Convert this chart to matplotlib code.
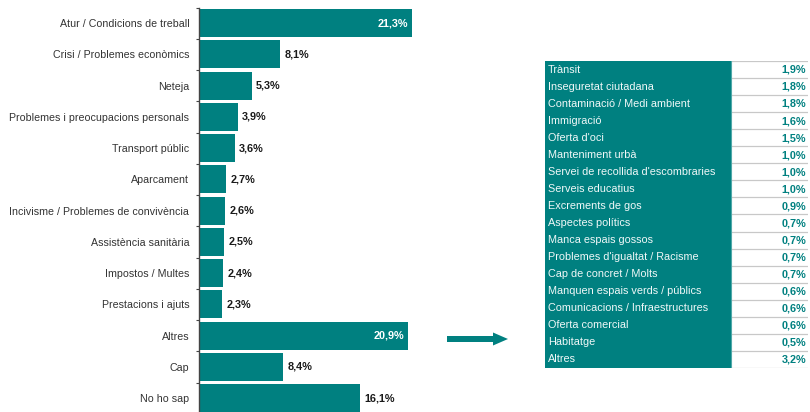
import matplotlib
matplotlib.use("Agg")
import matplotlib.pyplot as plt
from matplotlib.patches import Rectangle, FancyArrow

plt.rcParams['font.family'] = ['Liberation Sans', 'DejaVu Sans']

TEAL = '#008080'

# ---- data ----
categories = ["Atur / Condicions de treball", "Crisi / Problemes econòmics", "Neteja",
              "Problemes i preocupacions personals", "Transport públic", "Aparcament",
              "Incivisme / Problemes de convivència", "Assistència sanitària",
              "Impostos / Multes", "Prestacions i ajuts", "Altres", "Cap", "No ho sap"]
values = [21.3, 8.1, 5.3, 3.9, 3.6, 2.7, 2.6, 2.5, 2.4, 2.3, 20.9, 8.4, 16.1]

other_items = ["Trànsit", "Inseguretat ciutadana", "Contaminació / Medi ambient", "Immigració",
               "Oferta d'oci", "Manteniment urbà", "Servei de recollida d'escombraries",
               "Serveis educatius", "Excrements de gos", "Aspectes polítics",
               "Manca espais gossos", "Problemes d'igualtat / Racisme", "Cap de concret / Molts",
               "Manquen espais verds / públics", "Comunicacions / Infraestructures",
               "Oferta comercial", "Habitatge", "Altres"]
other_values = [1.9, 1.8, 1.8, 1.6, 1.5, 1.0, 1.0, 1.0, 0.9, 0.7, 0.7, 0.7, 0.7, 0.6, 0.6, 0.6, 0.5, 3.2]

def fmt(v):
    return f"{v:.1f}".replace('.', ',') + '%'

W, H = 810, 412
fig = plt.figure(figsize=(W / 100, H / 100), dpi=100)

# ---- bar chart ----
top_px = 7.5
slot = 31.25
n = len(categories)
ax_h = slot * n
ax = fig.add_axes([199 / W, (H - top_px - ax_h) / H, 213 / W, ax_h / H])
ypos = list(range(n))
ax.barh(ypos, values, height=0.9, color=TEAL, zorder=2)
ax.set_xlim(0, 21.3)
ax.set_ylim(n - 0.5, -0.5)
ax.set_xticks([])
ax.set_yticks(ypos)
ax.set_yticklabels(categories, fontsize=7.7, color='#333333')
ax.tick_params(axis='y', which='major', length=0, pad=7)
ax.set_yticks([i - 0.5 for i in range(n + 1)], minor=True)
ax.tick_params(axis='y', which='minor', length=2.5, width=0.8, color='#444444', direction='out')
for s in ['top', 'right', 'bottom']:
    ax.spines[s].set_visible(False)
ax.spines['left'].set_color('#444444')
ax.spines['left'].set_linewidth(1.0)
ax.patch.set_alpha(0)

for y, v in zip(ypos, values):
    if v > 20:
        ax.annotate(fmt(v), (v, y), xytext=(-3, 0), textcoords='offset points',
                    ha='right', va='center', fontsize=7.8, fontweight='bold', color='white',
                    zorder=3)
    else:
        ax.annotate(fmt(v), (v, y), xytext=(3, 0), textcoords='offset points',
                    ha='left', va='center', fontsize=7.8, fontweight='bold', color='#1a1a1a',
                    annotation_clip=False, zorder=3)

# ---- table of other answers ----
tx0, tx1 = 545, 808
ty0, ty1 = 61, 368
tab = fig.add_axes([tx0 / W, (H - ty1) / H, (tx1 - tx0) / W, (ty1 - ty0) / H])
m = len(other_items)
tab.set_xlim(0, 1)
tab.set_ylim(m, 0)
tab.axis('off')
split = (731 - tx0) / (tx1 - tx0)
tab.add_patch(Rectangle((0, 0), split, m, facecolor=TEAL, edgecolor='none'))
for i in range(m + 1):
    tab.plot([split, 1], [i, i], color='#c8c8c8', lw=0.9, solid_capstyle='butt')
tab.plot([split, split], [0, m], color='#4fa8a8', lw=0.8)
for i, (name, v) in enumerate(zip(other_items, other_values)):
    tab.text(3 / (tx1 - tx0), i + 0.5, name, ha='left', va='center', fontsize=7.8,
             color='#f0f8f8')
    tab.text(1 - 2 / (tx1 - tx0), i + 0.52, fmt(v), ha='right', va='center', fontsize=7.8,
             color=TEAL, fontweight='bold')

# ---- arrow ----
ov = fig.add_axes([0, 0, 1, 1])
ov.set_xlim(0, W)
ov.set_ylim(H, 0)
ov.axis('off')
ov.patch.set_alpha(0)
ov.add_patch(FancyArrow(447, 339, 61, 0, width=6, head_width=13, head_length=15,
                        length_includes_head=True, color=TEAL, lw=0))

fig.savefig('out.png', dpi=100)
